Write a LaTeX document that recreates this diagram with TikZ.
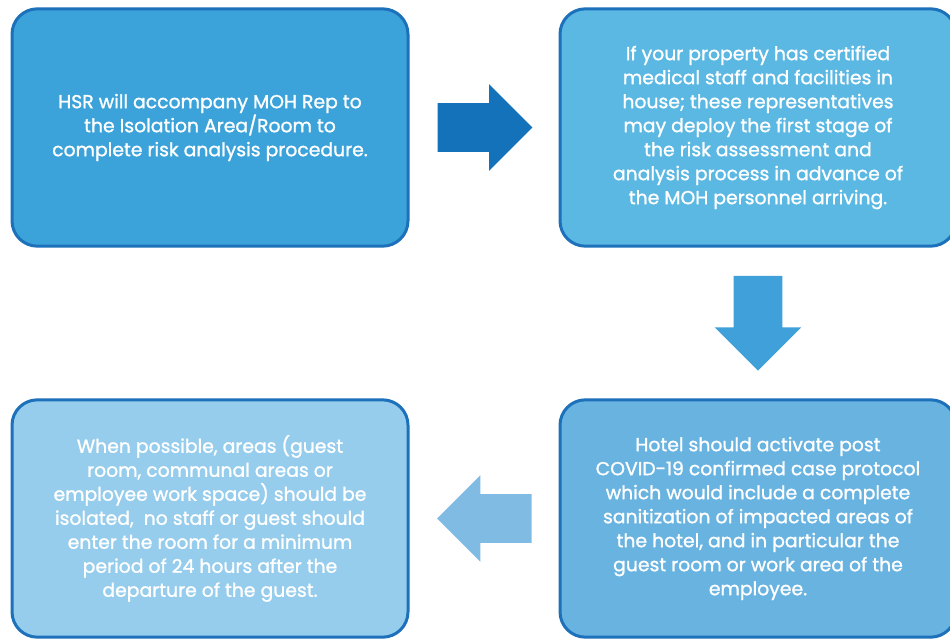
\documentclass[tikz,border=0pt]{standalone}
\usepackage{fontspec}
\setmainfont{Poppins}[FakeBold=1.2]
\usepackage{tikz}
\usetikzlibrary{shapes.arrows, positioning, calc}
\definecolor{edgeblue}{RGB}{29,112,186}
\definecolor{fillone}{RGB}{59,163,218}
\definecolor{filltwo}{RGB}{91,184,227}
\definecolor{fillthree}{RGB}{104,179,224}
\definecolor{fillfour}{RGB}{150,205,236}
\definecolor{arrowone}{RGB}{19,114,186}
\definecolor{arrowtwo}{RGB}{63,160,218}
\definecolor{arrowthree}{RGB}{128,187,227}

\begin{document}
\begin{tikzpicture}[
    x=0.75pt, y=-0.75pt,
    box/.style={
        rectangle,
        rounded corners=19pt,
        draw=edgeblue,
        line width=2.25pt,
        minimum width=297pt,
        minimum height=178pt,
        align=center,
        text=white,
        font=\fontsize{14.1}{18}\selectfont
    },
    blockarrow/.style={
        single arrow,
        draw=none,
        inner sep=18pt,
        minimum width=64.5pt,
        minimum height=71pt,
        single arrow head extend=14.25pt,
        anchor=tail
    }
]
\useasboundingbox (0,0) rectangle (950,640);

\node[box, fill=fillone] (s1) at (210,127.5) {HSR will accompany MOH Rep to\\the Isolation Area/Room to\\complete risk analysis procedure.};
\node[box, fill=filltwo] (s2) at (758,127.5) {If your property has certified\\medical staff and facilities in\\house; these representatives\\may deploy the first stage of\\the risk assessment and\\analysis process in advance of\\the MOH personnel arriving.};
\node[box, fill=fillthree] (s3) at (758,518.5) {Hotel should activate post\\COVID-19 confirmed case protocol\\which would include a complete\\sanitization of impacted areas of\\the hotel, and in particular the\\guest room or work area of the\\employee.};
\node[box, fill=fillfour] (s4) at (210,518.5) {When possible, areas (guest\\room, communal areas or\\employee work space) should be\\isolated,\ \ no staff or guest should\\enter the room for a minimum\\period of 24 hours after the\\departure of the guest.};

\node[blockarrow, fill=arrowone, xshift=-35pt] (a1) at ($(s1.east)!0.5!(s2.west)$) {};
\node[blockarrow, fill=arrowtwo, shape border rotate=270, yshift=35.5pt] (a2) at ($(s2.south)!0.5!(s3.north)$) {};
\node[blockarrow, fill=arrowthree, shape border rotate=180, xshift=36pt] (a3) at ($(s3.west)!0.5!(s4.east)$) {};

\end{tikzpicture}
\end{document}
